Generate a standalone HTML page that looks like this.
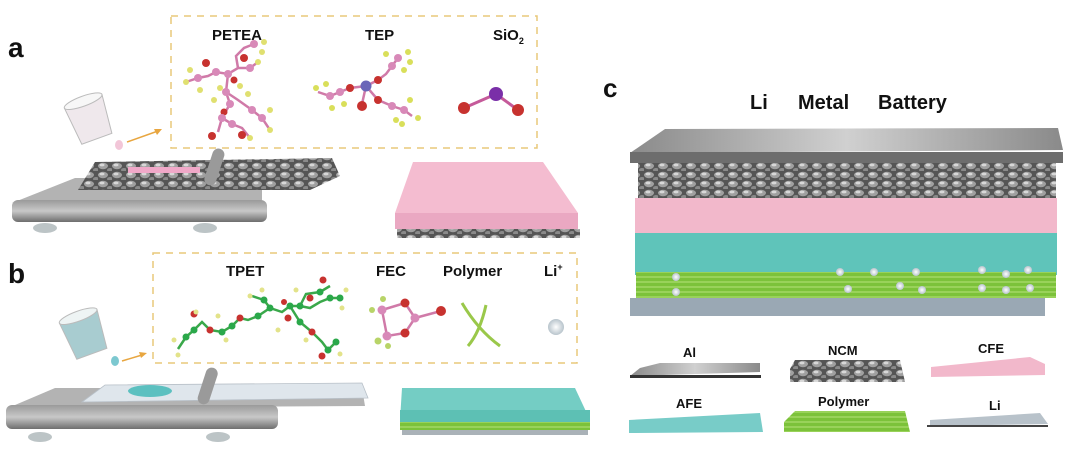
<!DOCTYPE html>
<html><head><meta charset="utf-8"><style>
html,body{margin:0;padding:0;background:#fff;width:1080px;height:452px;overflow:hidden}
text{font-family:"Liberation Sans",Arial,sans-serif;font-weight:bold;fill:#111}
</style></head><body>
<svg width="1080" height="452" viewBox="0 0 1080 452" xmlns="http://www.w3.org/2000/svg">
<defs>
<linearGradient id="plat" x1="0" y1="0" x2="0" y2="1"><stop offset="0" stop-color="#9a9a9a"/><stop offset=".5" stop-color="#c8c8c8"/><stop offset="1" stop-color="#6e6e6e"/></linearGradient>
<linearGradient id="alg" x1="0" y1="0" x2="1" y2="0"><stop offset="0" stop-color="#8a8a8a"/><stop offset=".5" stop-color="#d0d0d0"/><stop offset="1" stop-color="#8a8a8a"/></linearGradient>
<pattern id="ncm" width="14" height="9" patternUnits="userSpaceOnUse"><rect width="14" height="9" fill="#555"/><ellipse cx="5" cy="4" rx="5" ry="3.2" fill="#a0a0a0"/><ellipse cx="4" cy="3" rx="2.5" ry="1.4" fill="#d8d8d8"/><ellipse cx="12" cy="8" rx="3" ry="2" fill="#8a8a8a"/></pattern>
<pattern id="grn" width="20" height="5" patternUnits="userSpaceOnUse"><rect width="20" height="5" fill="#7cc23a"/><line x1="0" y1="2" x2="20" y2="2" stroke="#b6e27a" stroke-width="1"/></pattern>
<radialGradient id="ball"><stop offset="0" stop-color="#fff"/><stop offset="1" stop-color="#b8c4cc"/></radialGradient>
</defs>

<!-- ===== Panel a ===== -->
<text x="8" y="57" font-size="28">a</text>
<rect x="171" y="16" width="366" height="132" fill="none" stroke="#e8c87a" stroke-width="1.5" stroke-dasharray="7,6"/>
<text x="212" y="40" font-size="15">PETEA</text>
<text x="365" y="40" font-size="15">TEP</text>
<text x="493" y="40" font-size="15">SiO<tspan font-size="9" dy="4">2</tspan></text>
<g stroke="#d07aa8" stroke-width="2.5" fill="none">
<polyline points="186,82 198,78 208,76 216,72 228,74 238,68 250,68 258,62"/>
<polyline points="228,74 226,92 230,104 222,118 218,132"/>
<polyline points="226,92 238,100 252,110 262,118 270,130"/>
<polyline points="222,118 232,124 242,128 250,138"/>
<polyline points="238,68 236,56 244,48 254,44"/>
</g>
<g fill="#c7322f"><circle cx="206" cy="63" r="4"/><circle cx="244" cy="58" r="4"/><circle cx="234" cy="80" r="3.5"/><circle cx="212" cy="136" r="4"/><circle cx="242" cy="135" r="4"/><circle cx="224" cy="112" r="3.5"/></g>
<g fill="#d889b8"><circle cx="198" cy="78" r="4"/><circle cx="216" cy="72" r="4"/><circle cx="228" cy="74" r="4"/><circle cx="250" cy="68" r="4"/><circle cx="226" cy="92" r="4"/><circle cx="230" cy="104" r="4"/><circle cx="222" cy="118" r="4"/><circle cx="252" cy="110" r="4"/><circle cx="262" cy="118" r="4"/><circle cx="232" cy="124" r="4"/><circle cx="254" cy="44" r="4"/></g>
<g fill="#e0e070"><circle cx="186" cy="82" r="3"/><circle cx="190" cy="70" r="3"/><circle cx="200" cy="90" r="3"/><circle cx="258" cy="62" r="3"/><circle cx="262" cy="52" r="3"/><circle cx="248" cy="94" r="3"/><circle cx="214" cy="100" r="3"/><circle cx="270" cy="130" r="3"/><circle cx="270" cy="110" r="3"/><circle cx="250" cy="138" r="3"/><circle cx="240" cy="86" r="3"/><circle cx="220" cy="88" r="3"/><circle cx="264" cy="42" r="3"/></g>
<g stroke="#d07aa8" stroke-width="2.5" fill="none"><polyline points="318,92 330,96 340,92 350,88 366,86 378,80 386,74 392,66 398,58"/><polyline points="366,86 362,104"/><polyline points="366,86 378,100 392,106 404,110 412,116"/></g>
<circle cx="366" cy="86" r="5.5" fill="#6a66b8"/>
<g fill="#c7322f"><circle cx="350" cy="88" r="4"/><circle cx="378" cy="80" r="4"/><circle cx="362" cy="106" r="5"/><circle cx="378" cy="100" r="4"/></g>
<g fill="#d889b8"><circle cx="330" cy="96" r="4"/><circle cx="340" cy="92" r="4"/><circle cx="392" cy="66" r="4"/><circle cx="398" cy="58" r="4"/><circle cx="392" cy="106" r="4"/><circle cx="404" cy="110" r="4"/></g>
<g fill="#d9df5a"><circle cx="316" cy="88" r="3"/><circle cx="326" cy="84" r="3"/><circle cx="332" cy="108" r="3"/><circle cx="344" cy="104" r="3"/><circle cx="386" cy="54" r="3"/><circle cx="408" cy="52" r="3"/><circle cx="404" cy="70" r="3"/><circle cx="410" cy="62" r="3"/><circle cx="396" cy="120" r="3"/><circle cx="410" cy="100" r="3"/><circle cx="418" cy="118" r="3"/><circle cx="402" cy="124" r="3"/></g>
<g stroke="#c55a9a" stroke-width="3"><line x1="464" y1="108" x2="496" y2="94"/><line x1="496" y1="94" x2="518" y2="110"/></g>
<circle cx="496" cy="94" r="7" fill="#7a2fa8"/><circle cx="464" cy="108" r="6" fill="#c7322f"/><circle cx="518" cy="110" r="6" fill="#c7322f"/>
<g transform="rotate(-20 90 120)"><path d="M70,100 L110,100 L106,140 L74,140 Z" fill="#efe8ec" stroke="#bbb"/><ellipse cx="90" cy="100" rx="20" ry="5" fill="#f7f7f7" stroke="#bbb"/></g>
<ellipse cx="119" cy="145" rx="4" ry="5" fill="#f2c6d8"/>
<line x1="127" y1="142" x2="158" y2="131" stroke="#e8a640" stroke-width="1.5"/><path d="M162,129 L154,129 L157,135 Z" fill="#e8a640"/>
<path d="M12,203 L75,178 L262,178 L262,200 Z" fill="#b3b3b3"/>
<rect x="12" y="200" width="255" height="22" rx="6" fill="url(#plat)"/>
<ellipse cx="45" cy="228" rx="12" ry="5" fill="#bcc4c6"/><ellipse cx="205" cy="228" rx="12" ry="5" fill="#bcc4c6"/>
<path d="M78,190 L95,162 L332,158 L340,176 L310,190 Z" fill="url(#ncm)"/>
<rect x="128" y="167" width="72" height="6" fill="#f0a8c8"/>
<g transform="rotate(18 215 165)"><rect x="209" y="148" width="12" height="38" rx="6" fill="#9a9a9a"/></g>
<path d="M413,162 L543,162 L578,213 L395,213 Z" fill="#f4bcd0"/>
<rect x="395" y="213" width="183" height="16" fill="#eaa8c2"/>
<rect x="397" y="229" width="183" height="9" fill="url(#ncm)"/>

<!-- ===== Panel b ===== -->
<text x="8" y="283" font-size="28">b</text>
<rect x="153" y="253" width="424" height="110" fill="none" stroke="#e8c87a" stroke-width="1.5" stroke-dasharray="7,6"/>
<text x="226" y="276" font-size="15">TPET</text>
<text x="376" y="276" font-size="15">FEC</text>
<text x="443" y="276" font-size="15">Polymer</text>
<text x="544" y="276" font-size="15">Li<tspan font-size="9" dy="-6">+</tspan></text>
<g stroke="#3aa84a" stroke-width="2.5" fill="none">
<polyline points="178,349 186,337 194,330 202,322 210,330 222,332 232,326 240,318 248,320 258,316 270,308 282,312 290,306 300,306 310,308 320,302 330,298 340,298"/>
<polyline points="270,308 264,300 252,296"/>
<polyline points="290,306 300,322 312,332 322,342 328,350 336,342"/>
<polyline points="300,306 306,294 320,292 330,286"/>
</g>
<g fill="#c7322f"><circle cx="194" cy="314" r="3.5"/><circle cx="210" cy="330" r="3.5"/><circle cx="240" cy="318" r="3.5"/><circle cx="288" cy="318" r="3.5"/><circle cx="312" cy="332" r="3.5"/><circle cx="310" cy="298" r="3.5"/><circle cx="322" cy="356" r="3.5"/><circle cx="323" cy="280" r="3.5"/><circle cx="284" cy="302" r="3"/></g>
<g fill="#2aa84a"><circle cx="186" cy="337" r="3.5"/><circle cx="194" cy="330" r="3.5"/><circle cx="222" cy="332" r="3.5"/><circle cx="232" cy="326" r="3.5"/><circle cx="258" cy="316" r="3.5"/><circle cx="270" cy="308" r="3.5"/><circle cx="290" cy="306" r="3.5"/><circle cx="300" cy="306" r="3.5"/><circle cx="264" cy="300" r="3.5"/><circle cx="300" cy="322" r="3.5"/><circle cx="330" cy="298" r="3.5"/><circle cx="340" cy="298" r="3.5"/><circle cx="328" cy="350" r="3.5"/><circle cx="336" cy="342" r="3.5"/><circle cx="320" cy="292" r="3.5"/></g>
<g fill="#e3e38a"><circle cx="174" cy="340" r="2.5"/><circle cx="178" cy="355" r="2.5"/><circle cx="196" cy="312" r="2.5"/><circle cx="218" cy="316" r="2.5"/><circle cx="226" cy="340" r="2.5"/><circle cx="250" cy="296" r="2.5"/><circle cx="262" cy="290" r="2.5"/><circle cx="342" cy="308" r="2.5"/><circle cx="346" cy="290" r="2.5"/><circle cx="340" cy="354" r="2.5"/><circle cx="306" cy="340" r="2.5"/><circle cx="296" cy="290" r="2.5"/><circle cx="278" cy="330" r="2.5"/></g>
<g stroke="#d07aa8" stroke-width="2.5" fill="none"><polygon points="382,310 405,303 415,318 405,333 387,336"/><line x1="415" y1="318" x2="441" y2="311"/></g>
<g fill="#d889b8"><circle cx="382" cy="310" r="4.5"/><circle cx="387" cy="336" r="4.5"/><circle cx="415" cy="318" r="4.5"/></g>
<g fill="#c7322f"><circle cx="405" cy="303" r="4.5"/><circle cx="405" cy="333" r="4.5"/><circle cx="441" cy="311" r="5"/></g>
<g fill="#b8d468"><circle cx="372" cy="310" r="3"/><circle cx="383" cy="299" r="3"/><circle cx="378" cy="341" r="3.5"/><circle cx="388" cy="346" r="3"/></g>
<g stroke="#9ac84a" stroke-width="3" fill="none"><path d="M462,303 Q478,330 500,346"/><path d="M486,305 Q480,332 468,346"/></g>
<circle cx="556" cy="327" r="8" fill="url(#ball)"/>
<g transform="rotate(-20 85 335)"><path d="M65,315 L105,315 L101,355 L69,355 Z" fill="#a8ccd0" stroke="#bbb"/><ellipse cx="85" cy="315" rx="20" ry="5" fill="#eef4f4" stroke="#bbb"/></g>
<ellipse cx="115" cy="361" rx="4" ry="5" fill="#7cc8d0"/>
<line x1="122" y1="361" x2="142" y2="355" stroke="#e8a640" stroke-width="1.5"/><path d="M147,353 L139,352 L141,358 Z" fill="#e8a640"/>
<path d="M8,408 L55,388 L362,388 L365,406 Z" fill="#b3b3b3"/>
<rect x="6" y="405" width="272" height="24" rx="6" fill="url(#plat)"/>
<ellipse cx="40" cy="437" rx="12" ry="5" fill="#bcc4c6"/><ellipse cx="218" cy="437" rx="12" ry="5" fill="#bcc4c6"/>
<path d="M82,402 L105,385 L362,383 L368,398 Z" fill="#dfe6ec" stroke="#b8c0c8" stroke-width="0.8"/>
<ellipse cx="150" cy="391" rx="22" ry="6" fill="#5cc0c0"/>
<g transform="rotate(18 208 385)"><rect x="202" y="367" width="12" height="38" rx="6" fill="#9a9a9a"/></g>
<path d="M402,388 L575,388 L590,420 L400,420 Z" fill="#74cdc4"/>
<rect x="400" y="410" width="190" height="12" fill="#5dc0b4"/>
<rect x="400" y="422" width="190" height="8" fill="url(#grn)"/>
<rect x="402" y="430" width="186" height="5" fill="#aab2b8"/>

<!-- ===== Panel c ===== -->
<text x="603" y="97" font-size="26">c</text>
<text x="750" y="109" font-size="20">Li</text>
<text x="798" y="109" font-size="20">Metal</text>
<text x="878" y="109" font-size="20">Battery</text>
<path d="M665,129 L1058,128 L1063,150 L630,153 Z" fill="url(#alg)"/>
<rect x="630" y="152" width="433" height="11" fill="#6d6d6d"/>
<rect x="638" y="163" width="418" height="38" fill="url(#ncm)"/>
<rect x="635" y="198" width="422" height="35" fill="#f2b8cb"/>
<rect x="635" y="233" width="422" height="42" fill="#5fc4ba"/>
<rect x="636" y="272" width="420" height="26" fill="url(#grn)"/>
<g fill="url(#ball)"><circle cx="676" cy="277" r="4"/><circle cx="676" cy="292" r="4"/><circle cx="840" cy="272" r="4"/><circle cx="848" cy="289" r="4"/><circle cx="874" cy="272" r="4"/><circle cx="900" cy="286" r="4"/><circle cx="916" cy="272" r="4"/><circle cx="922" cy="290" r="4"/><circle cx="982" cy="270" r="4"/><circle cx="1006" cy="274" r="4"/><circle cx="1028" cy="270" r="4"/><circle cx="982" cy="288" r="4"/><circle cx="1006" cy="290" r="4"/><circle cx="1030" cy="288" r="4"/></g>
<rect x="630" y="298" width="415" height="18" fill="#9aa8b4"/>
<text x="683" y="357" font-size="13">Al</text>
<path d="M640,368 L660,363 L760,363 L760,372 L630,376 Z" fill="url(#alg)"/>
<rect x="630" y="375" width="131" height="3" fill="#333"/>
<text x="828" y="355" font-size="13">NCM</text>
<path d="M790,369 L795,360 L900,360 L905,382 L790,382 Z" fill="url(#ncm)"/>
<text x="978" y="353" font-size="13">CFE</text>
<path d="M931,367 L1030,357 L1045,364 L1045,375 L931,377 Z" fill="#f2b8cb"/>
<text x="676" y="408" font-size="13">AFE</text>
<path d="M629,420 L760,413 L763,432 L629,433 Z" fill="#78ccc8"/>
<text x="818" y="406" font-size="13">Polymer</text>
<path d="M784,422 L795,411 L905,411 L910,432 L784,432 Z" fill="url(#grn)"/>
<text x="989" y="410" font-size="13">Li</text>
<path d="M930,420 L1040,413 L1048,424 L930,426 Z" fill="#b8c2ca"/>
<rect x="927" y="425" width="121" height="2" fill="#444"/>
</svg>
</body></html>
